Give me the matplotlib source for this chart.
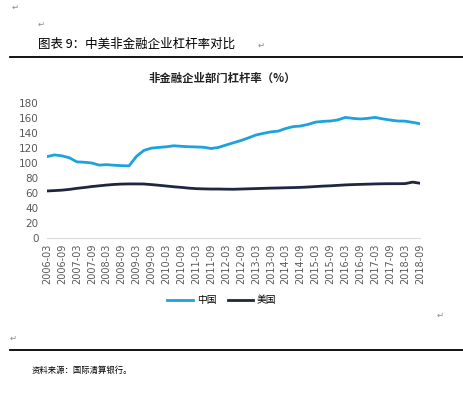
"""
Non-financial corporate leverage, China vs US (BIS)
"""
import matplotlib
matplotlib.use('Agg')
import matplotlib.pyplot as plt

plt.rcParams['font.family'] = ['Noto Sans CJK SC', 'DejaVu Sans']

# quarterly data, 2006-03 .. 2018-09
quarters = [f'{y}-{m}' for y in range(2006, 2019) for m in ('03', '06', '09', '12')][:51]
china = [108.5, 110.8, 109.5, 107.0, 101.5, 101.0, 100.0, 97.2, 97.8, 97.0,
         96.5, 96.2, 109.0, 116.8, 119.8, 120.8, 121.6, 123.0, 122.3, 121.7,
         121.4, 121.0, 119.3, 120.8, 124.0, 127.0, 130.0, 133.5, 137.3, 139.5,
         141.5, 142.5, 146.0, 148.5, 149.3, 151.5, 154.5, 155.5, 156.0, 157.5,
         160.8, 159.5, 158.7, 159.5, 160.8, 158.8, 157.3, 156.0, 155.8, 154.2,
         152.4]
usa = [62.7, 63.2, 63.8, 64.8, 66.2, 67.3, 68.6, 69.6, 70.6, 71.4,
       71.9, 72.1, 72.1, 72.0, 71.2, 70.3, 69.3, 68.3, 67.5, 66.5,
       65.8, 65.5, 65.3, 65.3, 65.1, 65.0, 65.3, 65.6, 65.9, 66.2,
       66.5, 66.7, 67.0, 67.2, 67.5, 68.0, 68.6, 69.2, 69.6, 70.2,
       70.8, 71.2, 71.5, 71.8, 72.1, 72.3, 72.4, 72.4, 72.5, 74.5,
       73.0]
series_names = ['中国', '美国']
yticks = list(range(0, 181, 20))

W, H = 464, 394
fig = plt.figure(figsize=(W / 100, H / 100), dpi=100)


def ftext(x, y, s, **kw):
    fig.text(x / W, 1 - y / H, s, **kw)


def hline(y, x0=10, x1=464, lw=1.3):
    fig.add_artist(plt.Line2D([x0 / W, x1 / W], [1 - y / H, 1 - y / H],
                              color='black', lw=lw, transform=fig.transFigure))


# document decorations
ret = '\u21b5'
ftext(12, 7, ret, fontsize=6, color='#888888', va='center')
ftext(38, 24, ret, fontsize=6, color='#888888', va='center')
ftext(38, 44, '图表 9：中美非金融企业杠杆率对比', fontsize=9, va='center')
ftext(258, 45, ret, fontsize=6, color='#888888', va='center')
hline(57)
ftext(222, 78, '非金融企业部门杠杆率（%）', fontsize=8.2, fontweight='bold',
      ha='center', va='center', color='#222222')
ftext(437, 315, ret, fontsize=6, color='#888888', va='center')
ftext(10, 338, ret, fontsize=6, color='#888888', va='center')
hline(350)
ftext(32, 370, '资料来源：国际清算银行。', fontsize=6, style='italic', va='center')

# chart
ax = fig.add_axes([47 / W, 1 - 238 / H, (420 - 47) / W, (238 - 103) / H])
x = list(range(len(quarters)))
ax.plot(x, china, color='#1CA2DD', lw=2.0, label=series_names[0])
ax.plot(x, usa, color='#1E2640', lw=2.0, label=series_names[1])
ax.set_xlim(0, len(quarters) - 1)
ax.set_ylim(0, 180)
ax.set_yticks(yticks)
ax.set_xticks(x[::2])
ax.set_xticklabels(quarters[::2], rotation=90, fontsize=7, color='#595959',
                   family='DejaVu Sans')
ax.tick_params(axis='y', labelsize=7.5, labelcolor='#595959', length=0, pad=6)
ax.tick_params(axis='x', length=0, pad=4)
for lab in ax.get_yticklabels():
    lab.set_family('DejaVu Sans')
for s in ('top', 'right', 'left'):
    ax.spines[s].set_visible(False)
ax.spines['bottom'].set_color('#D9D9D9')

fig.legend(loc='center', bbox_to_anchor=(222 / W, 1 - 300 / H), ncol=2,
           frameon=False, fontsize=7, handlelength=2.6, columnspacing=1.2,
           handletextpad=0.4)

plt.savefig('out.png', dpi=100)
